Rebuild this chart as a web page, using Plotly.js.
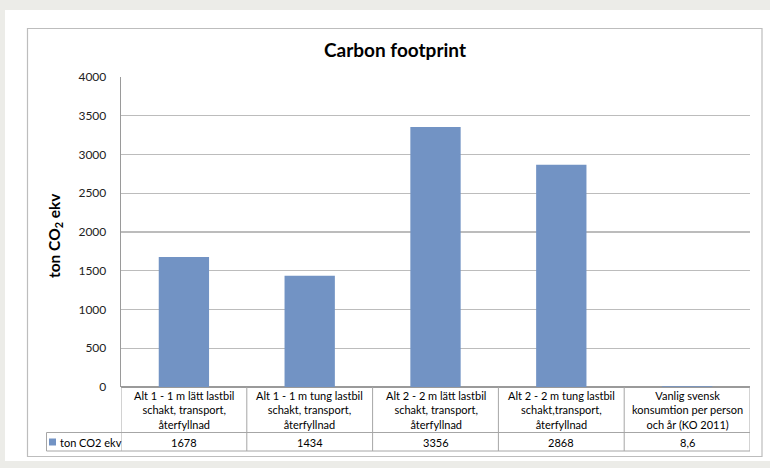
<!DOCTYPE html>
<html>
<head>
<meta charset="utf-8">
<script src="https://cdn.plot.ly/plotly-3.0.1.min.js"></script>
<style>
html,body{margin:0;padding:0;background:#ecece8;}
#chart{width:770px;height:468px;}
</style>
</head>
<body>
<div id="chart"></div>
<script>
// ---- data ----
const categoryLines = [
  ["Alt 1 - 1 m lätt lastbil", "schakt, transport,", "återfyllnad"],
  ["Alt 1 - 1 m tung lastbil", "schakt, transport,", "återfyllnad"],
  ["Alt 2 - 2 m lätt lastbil", "schakt, transport,", "återfyllnad"],
  ["Alt 2 - 2 m tung lastbil", "schakt,transport,", "återfyllnad"],
  ["Vanlig svensk", "konsumtion per person", "och år (KO 2011)"]
];
const values = [1678, 1434, 3356, 2868, 8.6];
const seriesName = "ton CO2 ekv";
const chartTitle = "Carbon footprint";
const yTitle = "ton CO<sub>2</sub> ekv";
const yTicks = [0, 500, 1000, 1500, 2000, 2500, 3000, 3500, 4000];

// ---- layout geometry ----
const W = 770, H = 468;
const L = 121, R = 750, T = 77, B = 387;
const pw = R - L, ph = B - T;
const px = x => (x - L) / pw;
const py = y => (B - y) / ph;

const FONT = "Lato, 'Liberation Sans', sans-serif";
const barColor = "#7293c4";
const lineColor = "#a6a6a6";
const n = values.length;
const idx = values.map((v, i) => i);

const shapes = [];
// white card
shapes.push({type:"rect", xref:"paper", yref:"paper", x0:px(5), x1:px(770), y0:py(10), y1:py(461),
  fillcolor:"#ffffff", line:{width:0}, layer:"below"});
// inner chart border
shapes.push({type:"rect", xref:"paper", yref:"paper", x0:px(27.5), x1:px(762), y0:py(28.5), y1:py(456.5),
  fillcolor:"rgba(0,0,0,0)", line:{color:"#bdbdbd", width:1.2}, layer:"below"});

// data table
const tMid = 432.5, tBot = 451;
const tLeft = 46.5;
shapes.push({type:"line", xref:"paper", yref:"paper", x0:px(L), x1:px(R), y0:py(tMid), y1:py(tMid), line:{color:lineColor, width:1}});
shapes.push({type:"line", xref:"paper", yref:"paper", x0:px(tLeft), x1:px(L), y0:py(tMid), y1:py(tMid), line:{color:lineColor, width:1}});
shapes.push({type:"line", xref:"paper", yref:"paper", x0:px(tLeft), x1:px(R), y0:py(tBot), y1:py(tBot), line:{color:lineColor, width:1}});
shapes.push({type:"line", xref:"paper", yref:"paper", x0:px(tLeft), x1:px(tLeft), y0:py(tMid), y1:py(tBot), line:{color:lineColor, width:1}});
for (let i = 0; i <= n; i++) {
  shapes.push({type:"line", xref:"x", yref:"paper", x0:i - 0.5, x1:i - 0.5, y0:py(B), y1:py(tBot), line:{color:lineColor, width:1}});
}
// legend key square
shapes.push({type:"rect", xref:"paper", yref:"paper", x0:px(49), x1:px(56), y0:py(438.5), y1:py(445.5), fillcolor:barColor, line:{width:0}});

const annotations = [];
annotations.push({xref:"paper", yref:"paper", x:px(55), y:py(236), text:yTitle, textangle:-90,
  showarrow:false, xanchor:"center", yanchor:"middle", font:{family:FONT, size:15.5, color:"#000", weight:"bold"}});
categoryLines.forEach((lines, i) => {
  annotations.push({xref:"x", yref:"paper", x:i, y:py(409.5), text:lines.join("<br>"),
    showarrow:false, xanchor:"center", yanchor:"middle", align:"center",
    font:{family:FONT, size:11, color:"#000"}});
  annotations.push({xref:"x", yref:"paper", x:i, y:py(442), text:String(values[i]).replace(".", ","),
    showarrow:false, xanchor:"center", yanchor:"middle", font:{family:FONT, size:11, color:"#000"}});
});
annotations.push({xref:"paper", yref:"paper", x:px(58), y:py(442), text:seriesName,
  showarrow:false, xanchor:"left", yanchor:"middle", font:{family:FONT, size:11, color:"#000"}});

const trace = {
  type:"bar", x:idx, y:values, name:seriesName,
  marker:{color:barColor, line:{width:0}}, width:0.4, hoverinfo:"y"
};

const layout = {
  width:W, height:H,
  margin:{l:L, r:W - R, t:T, b:H - B, pad:0},
  paper_bgcolor:"#ecece8", plot_bgcolor:"rgba(0,0,0,0)",
  showlegend:false,
  title:{text:"<b>" + chartTitle + "</b>", x:395 / W, xref:"container", y:1 - 50 / H, yref:"container",
    xanchor:"center", yanchor:"middle", font:{family:FONT, size:19, color:"#000"}},
  xaxis:{type:"linear", range:[-0.5, n - 0.5], showticklabels:false, showgrid:false, zeroline:false,
    showline:false, ticks:"", fixedrange:true},
  yaxis:{range:[0, 4000], tickvals:yTicks, ticktext:yTicks.map(String), showgrid:true, gridcolor:"#bcbcbc", gridwidth:1.3,
    zeroline:true, zerolinecolor:"#9a9a9a", zerolinewidth:1.3, showline:true, linecolor:"#9a9a9a", linewidth:1.3,
    ticks:"", ticklabelstandoff:11, tickfont:{family:FONT, size:12, color:"#222"}, fixedrange:true},
  shapes:shapes, annotations:annotations,
  bargap:0.6
};

Plotly.newPlot("chart", [trace], layout, {displayModeBar:false, staticPlot:true});
</script>
</body>
</html>
